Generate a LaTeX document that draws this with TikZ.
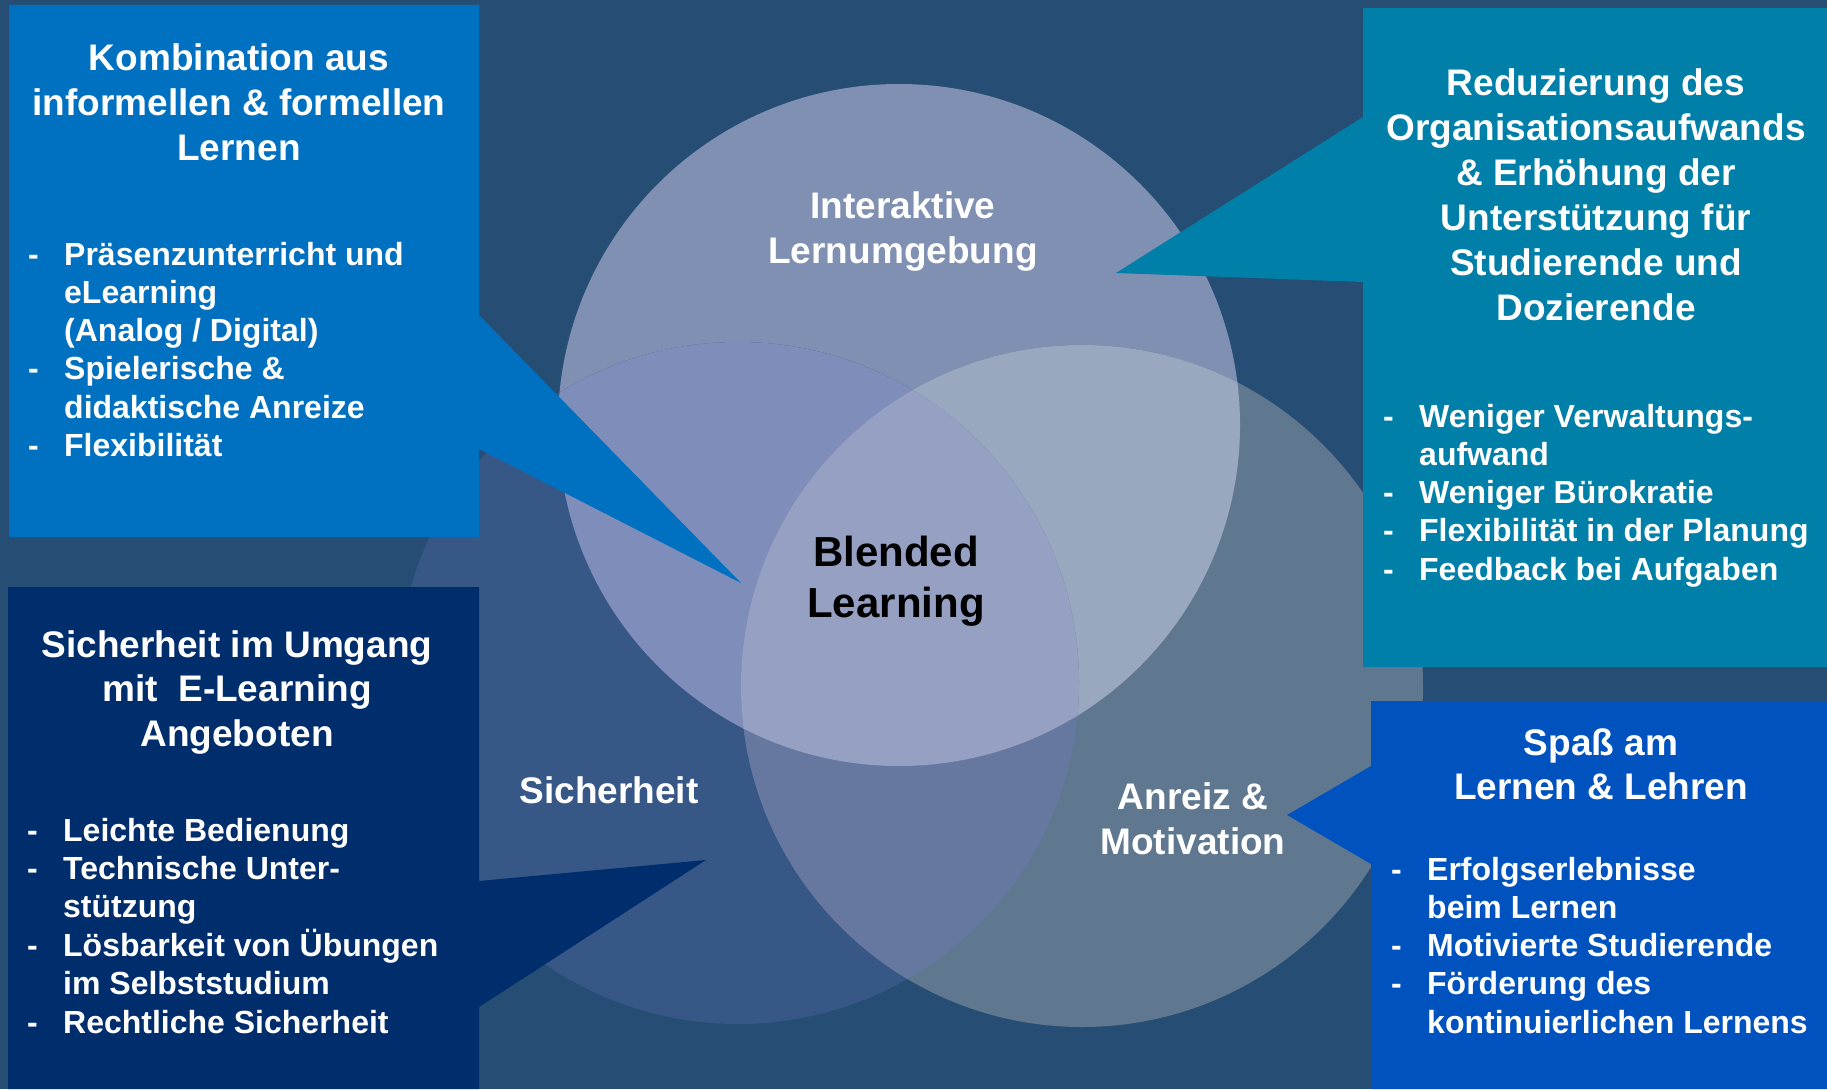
\documentclass[tikz,border=0pt]{standalone}
\usepackage{fontspec}
\setmainfont{Liberation Sans}
\definecolor{bgc}{HTML}{264D73}
\definecolor{cA}{HTML}{7F90B2}
\definecolor{cB}{HTML}{375787}
\definecolor{cC}{HTML}{5F788F}
\definecolor{cAB}{HTML}{7F8DBB}
\definecolor{cAC}{HTML}{99A8BE}
\definecolor{cBC}{HTML}{6678A0}
\definecolor{cABC}{HTML}{95A0C3}
\definecolor{boxone}{HTML}{0070C0}
\definecolor{boxtwo}{HTML}{007FA8}
\definecolor{boxthree}{HTML}{002D6B}
\definecolor{boxfour}{HTML}{0052BF}
\newcommand\dsh{\makebox[36pt][l]{-}}
\tikzset{
  ttl/.style={anchor=base, inner sep=0pt, text=white, font=\fontsize{37}{44.8}\selectfont\bfseries},
  lst/.style={anchor=base west, inner sep=0pt, text=white, font=\fontsize{32}{38.3}\selectfont\bfseries},
  lbl/.style={anchor=base, inner sep=0pt, text=white, font=\fontsize{37}{45.5}\selectfont\bfseries},
  ctr/.style={anchor=base, inner sep=0pt, text=black, font=\fontsize{42}{51}\selectfont\bfseries},
}
\begin{document}
\begin{tikzpicture}[x=1pt,y=-1pt]
\fill[bgc] (0,0) rectangle (1827,1089);
\useasboundingbox (0,0) rectangle (1827,1089);
\coordinate (A) at (899,425);
\coordinate (B) at (738,683);
\coordinate (C) at (1082,686);
% circles
\fill[cA] (A) circle[radius=341pt];
\fill[cB] (B) circle[radius=341pt];
\fill[cC] (C) circle[radius=341pt];
\begin{scope}
  \clip (A) circle[radius=341pt];
  \fill[cAB] (B) circle[radius=341pt];
\end{scope}
\begin{scope}
  \clip (A) circle[radius=341pt];
  \fill[cAC] (C) circle[radius=341pt];
\end{scope}
\begin{scope}
  \clip (B) circle[radius=341pt];
  \fill[cBC] (C) circle[radius=341pt];
\end{scope}
\begin{scope}
  \clip (A) circle[radius=341pt];
  \clip (B) circle[radius=341pt];
  \fill[cABC] (C) circle[radius=341pt];
\end{scope}
% callout boxes
\fill[boxone] (9,5) -- (479,5) -- (479,315) -- (741,583) -- (479,449) -- (479,537) -- (9,537) -- cycle;
\fill[boxtwo] (1363,8) -- (1827,8) -- (1827,667) -- (1363,667) -- (1363,282) -- (1116,273) -- (1363,117) -- cycle;
\fill[boxthree] (8,587) -- (479,587) -- (479,881) -- (706,860) -- (479,1007) -- (479,1089) -- (8,1089) -- cycle;
\fill[boxfour] (1371,701) -- (1827,701) -- (1827,1089) -- (1371,1089) -- (1371,864) -- (1287,815) -- (1371,766) -- cycle;
% circle labels
\node[lbl] (lInt) at (903,218) {\begin{tabular}[t]{@{}c@{}}Interaktive\\Lernumgebung\end{tabular}};
\node[ctr] (lBL) at (896,566) {\begin{tabular}[t]{@{}c@{}}Blended\\Learning\end{tabular}};
\node[lbl] (lSich) at (609,803) {Sicherheit};
\node[lbl] (lAnr) at (1193,809) {\begin{tabular}[t]{@{}c@{}}Anreiz \&\\Motivation\end{tabular}};
% box 1
\node[ttl] (t1) at (239,71) {\begin{tabular}[t]{@{}c@{}}Kombination aus\\informellen \& formellen\\Lernen\end{tabular}};
\node[lst] (l1) at (28,265) {\begin{tabular}[t]{@{}l@{}l@{}}
\dsh & Präsenzunterricht und\\
 & eLearning\\
 & (Analog / Digital)\\
\dsh & Spielerische \&\\
 & didaktische Anreize\\
\dsh & Flexibilität
\end{tabular}};
% box 2
\node[ttl] (t2) at (1596,96) {\begin{tabular}[t]{@{}c@{}}Reduzierung des\\Organisationsaufwands\\\& Erhöhung der\\Unterstützung für\\Studierende und\\Dozierende\end{tabular}};
\node[lst] (l2) at (1383,427) {\begin{tabular}[t]{@{}l@{}l@{}}
\dsh & Weniger Verwaltungs-\\
 & aufwand\\
\dsh & Weniger Bürokratie\\
\dsh & Flexibilität in der Planung\\
\dsh & Feedback bei Aufgaben
\end{tabular}};
% box 3
\node[ttl] (t3) at (237,657) {\begin{tabular}[t]{@{}c@{}}Sicherheit im Umgang\\mit\ \ E-Learning\\Angeboten\end{tabular}};
\node[lst] (l3) at (27,841) {\begin{tabular}[t]{@{}l@{}l@{}}
\dsh & Leichte Bedienung\\
\dsh & Technische Unter-\\
 & stützung\\
\dsh & Lösbarkeit von Übungen\\
 & im Selbststudium\\
\dsh & Rechtliche Sicherheit
\end{tabular}};
% box 4
\node[ttl] (t4) at (1601,755) {\begin{tabular}[t]{@{}c@{}}Spaß am\\Lernen \& Lehren\end{tabular}};
\node[lst] (l4) at (1391,880) {\begin{tabular}[t]{@{}l@{}l@{}}
\dsh & Erfolgserlebnisse\\
 & beim Lernen\\
\dsh & Motivierte Studierende\\
\dsh & Förderung des\\
 & kontinuierlichen Lernens
\end{tabular}};
\end{tikzpicture}
\end{document}
